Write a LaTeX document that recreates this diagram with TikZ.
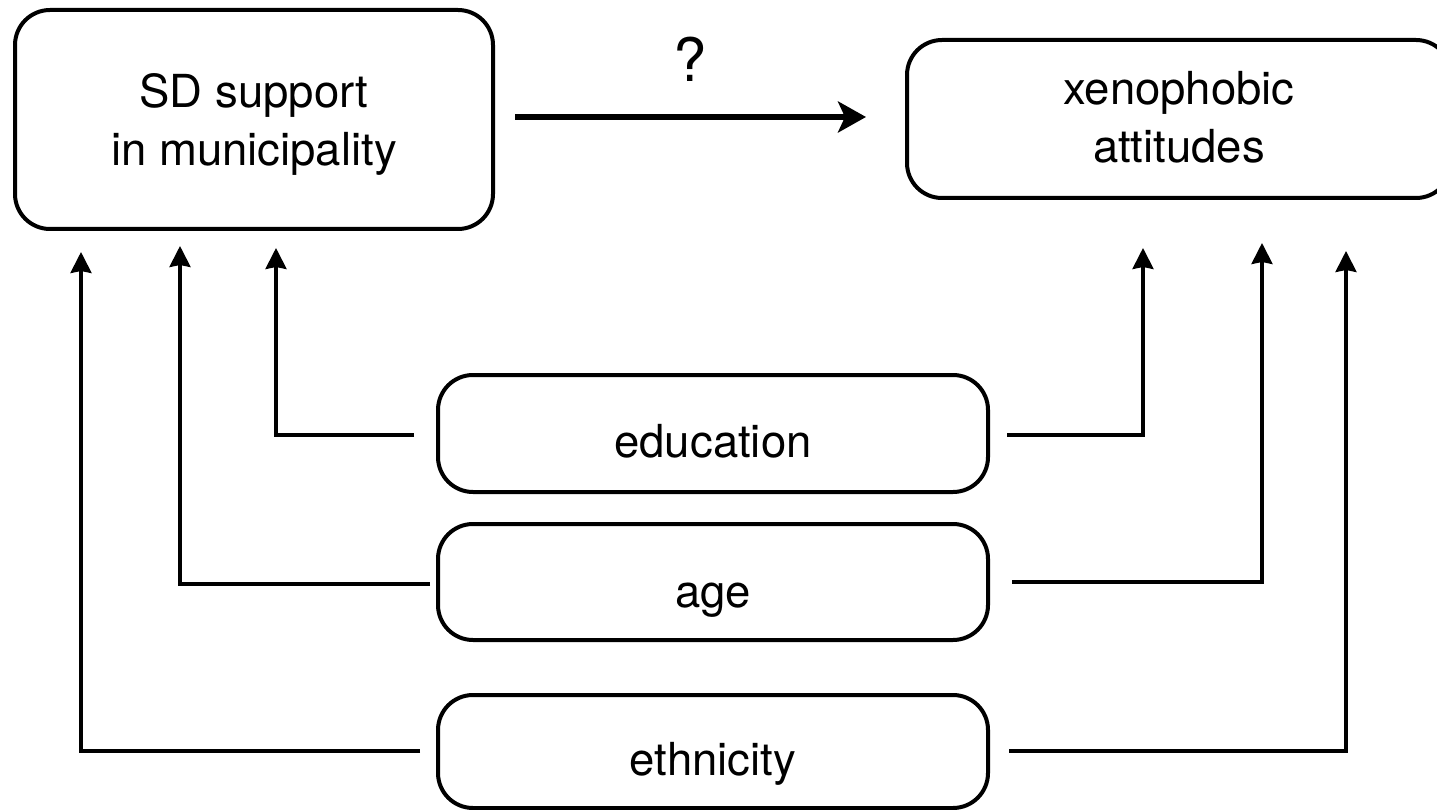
\documentclass[tikz,border=0pt]{standalone}
\usepackage{fontspec}
\setmainfont{TeX Gyre Heros}
\usetikzlibrary{arrows.meta,calc}
\tikzset{
  boxshape/.style={draw=black, line width=4pt, rounded corners=35pt, inner sep=0pt, rectangle},
  lbl/.style={inner sep=0pt, font=\fontsize{45.5}{58}\selectfont, align=center},
  conn/.style={draw=black, line width=3.3pt, line cap=butt, line join=miter,
    -{Stealth[length=21pt,width=21pt,inset=2pt]}},
  mainarrow/.style={draw=black, line width=6pt,
    -{Stealth[length=28pt,width=31pt,inset=7pt]}}
}
\begin{document}
\begin{tikzpicture}[x=1pt,y=-1pt]
\useasboundingbox[fill=white] (0,0) rectangle (1437,810);
% boxes
\node[boxshape, minimum width=478pt, minimum height=219pt] (sd) at (254,119.5) {};
\node[boxshape, minimum width=544pt, minimum height=158pt] (xeno) at (1179,119) {};
\node[boxshape, minimum width=550pt, minimum height=117pt] (edu) at (713,433.5) {};
\node[boxshape, minimum width=550pt, minimum height=116pt] (age) at (713,582) {};
\node[boxshape, minimum width=550pt, minimum height=113pt] (eth) at (713,751.5) {};
% texts
\node[lbl] (sdtext) at ($(sd.center)+(0,5)$) {SD support\\in municipality};
\node[lbl] (xenotext) at ($(xeno.center)+(0,-2)$) {xenophobic\\attitudes};
\node[lbl, anchor=base] (edutext) at ($(edu.center)+(0,24)$) {education};
\node[lbl, anchor=base] (agetext) at ($(age.center)+(0,25)$) {age};
\node[lbl, anchor=base] (ethtext) at ($(eth.center)+(0,23.5)$) {ethnicity};
% main arrow
\draw[mainarrow, shorten <=20pt, shorten >=39pt] ([yshift=2.5pt]sd.east) -- ([yshift=2pt]xeno.west);
\node[inner sep=0pt, anchor=base, font=\fontsize{60}{70}\selectfont] (q) at (690,82) {?};
% free ends of connectors
\coordinate (eduLs) at (414,435);   \coordinate (eduLt) at (276,248);
\coordinate (eduRs) at (1007,435);  \coordinate (eduRt) at (1143,248);
\coordinate (ageLs) at (430,584);   \coordinate (ageLt) at (180,246);
\coordinate (ageRs) at (1012,582);  \coordinate (ageRt) at (1262,243);
\coordinate (ethLs) at (420,751);   \coordinate (ethLt) at (81,252);
\coordinate (ethRs) at (1009,751);  \coordinate (ethRt) at (1346,251);
% connectors
\draw[conn] (eduLs) -| (eduLt);
\draw[conn] (eduRs) -| (eduRt);
\draw[conn] (ageLs) -| (ageLt);
\draw[conn] (ageRs) -| (ageRt);
\draw[conn] (ethLs) -| (ethLt);
\draw[conn] (ethRs) -| (ethRt);
\end{tikzpicture}
\end{document}
